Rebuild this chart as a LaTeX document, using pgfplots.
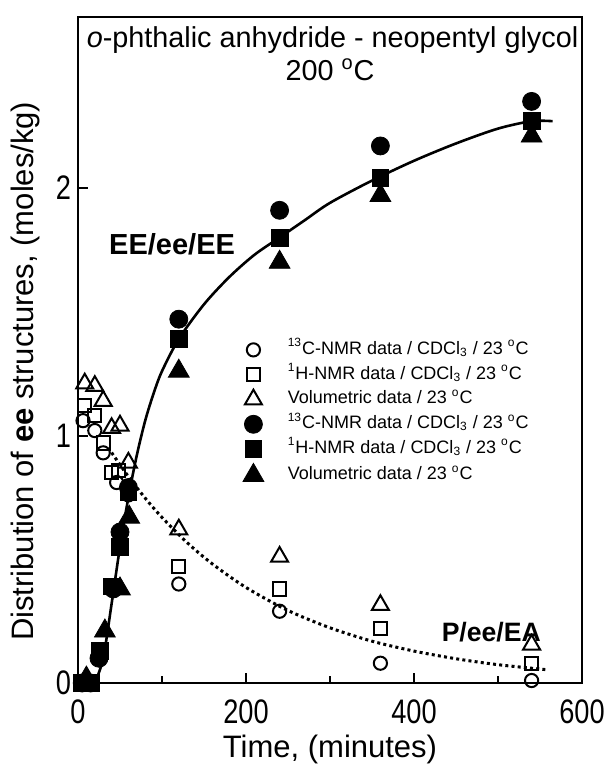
\documentclass[border=0pt]{standalone}
\usepackage{pgfplots}
\pgfplotsset{compat=1.18}
\usepackage{fontspec}
\setmainfont{Liberation Sans}
\newfontfamily\tickfont{Liberation Sans}[FakeStretch=0.8]
\begin{document}
\begin{tikzpicture}
\useasboundingbox (-39pt,-44pt) rectangle (265pt,341.5pt);
\begin{axis}[
  scale only axis, width=252pt, height=333pt,
  xmin=0, xmax=600, ymin=0, ymax=2.691,
  axis line style={line width=1pt},
  xtick={0,200,400,600}, minor xtick={100,300,500},
  ytick={0,1,2},
  xtick pos=bottom, ytick pos=left,
  tick align=inside,
  major tick length=5pt, minor tick length=3.5pt,
  every tick/.append style={line width=1pt, black},
  /pgf/number format/assume math mode=true,
  tick label style={font=\tickfont\fontsize{17}{20}\selectfont},
  xticklabel style={yshift=-5pt},
  xlabel={Time, (minutes)},
  ylabel={Distribution of \textbf{ee} structures, (moles/kg)},
  label style={font=\fontsize{15.5}{18}\selectfont},
  xlabel style={at={(rel axis cs:0.5,0)}, anchor=center, yshift=-33pt},
  ylabel style={at={(rel axis cs:-0.105,0.468)}, anchor=center},
  clip=false,
  legend style={draw=none, fill=none, inner sep=0pt, at={(axis cs:196,1.39)}, anchor=north west,
    font=\fontsize{9}{10.5}\selectfont, row sep=1.9pt,
    nodes={inner sep=1pt, text height=6.5pt, text depth=2pt},
    /tikz/every odd column/.append style={column sep=11pt}},
  legend cell align=left,
]
% open symbols (P/ee/EA)
\addplot[only marks, mark=o, mark size=3.3pt, line width=1pt, black] coordinates {
(6,1.06) (20,1.02) (30,0.93) (46,0.81) (60,0.76) (120,0.40) (240,0.29) (360,0.08) (540,0.01)};
\addlegendentry{\textsuperscript{13}C-NMR data / CDCl\textsubscript{3} / 23 \textsuperscript{o}C}
\addplot[only marks, mark=square, mark size=3.3pt, line width=1pt, black] coordinates {
(8,1.12) (20,1.08) (30,0.97) (40,0.85) (48,0.86) (120,0.47) (240,0.38) (360,0.22) (540,0.08)};
\addlegendentry{\textsuperscript{1}H-NMR data / CDCl\textsubscript{3} / 23 \textsuperscript{o}C}
\addplot[only marks, mark=triangle, mark size=4.9pt, line width=1pt, black] coordinates {
(8,1.21) (20,1.20) (30,1.14) (40,1.03) (50,1.04) (60,0.89) (120,0.62) (240,0.51) (360,0.315) (540,0.155)};
\addlegendentry{Volumetric data / 23 \textsuperscript{o}C}
% filled symbols (EE/ee/EE)
\addplot[only marks, mark=*, mark size=4.5pt, black] coordinates {
(5,0.0) (15,0.0) (25,0.10) (42,0.38) (50,0.61) (60,0.79) (120,1.47) (240,1.91) (360,2.17) (540,2.35)};
\addlegendentry{\textsuperscript{13}C-NMR data / CDCl\textsubscript{3} / 23 \textsuperscript{o}C}
\addplot[only marks, mark=square*, mark size=4.2pt, black] coordinates {
(5,0.0) (15,0.0) (26,0.13) (40,0.39) (50,0.55) (60,0.77) (120,1.39) (240,1.80) (360,2.04) (540,2.27)};
\addlegendentry{\textsuperscript{1}H-NMR data / CDCl\textsubscript{3} / 23 \textsuperscript{o}C}
\addplot[only marks, mark=triangle*, mark size=6pt, black] coordinates {
(10,0.02) (32,0.21) (50,0.38) (61,0.67) (120,1.26) (240,1.70) (360,1.97) (540,2.21)};
\addlegendentry{Volumetric data / 23 \textsuperscript{o}C}
% fitted curves
\addplot[smooth, line width=1.3pt, black, forget plot] coordinates {
(20,0) (30,0.10) (40,0.32) (50,0.55) (60,0.75) (70,0.92) (80,1.06) (90,1.17) (100,1.26)
(120,1.39) (150,1.53) (180,1.64) (210,1.73) (240,1.80) (270,1.87) (300,1.94) (350,2.03)
(400,2.11) (450,2.18) (500,2.24) (540,2.27) (565,2.27)};
\addplot[smooth, line width=1.5pt, black, dash pattern=on 1.5pt off 1.6pt, forget plot] coordinates {
(40,0.931) (60,0.834) (80,0.747) (100,0.669) (130,0.567) (160,0.481) (200,0.386) (250,0.293)
(300,0.223) (350,0.169) (400,0.129) (450,0.098) (500,0.074) (560,0.053)};
\node[font=\bfseries\fontsize{14.5}{17}\selectfont] at (axis cs:112,1.774) {EE/ee/EE};
\node[font=\bfseries\fontsize{13.3}{16}\selectfont] at (axis cs:492,0.205) {P/ee/EA};
\node[font=\fontsize{14.4}{17}\selectfont] at (axis cs:303,2.598) {\textit{o}-phthalic anhydride - neopentyl glycol};
\node[font=\fontsize{14.4}{17}\selectfont] at (axis cs:300,2.477) {200 \textsuperscript{o}C};
\end{axis}
\end{tikzpicture}
\end{document}
